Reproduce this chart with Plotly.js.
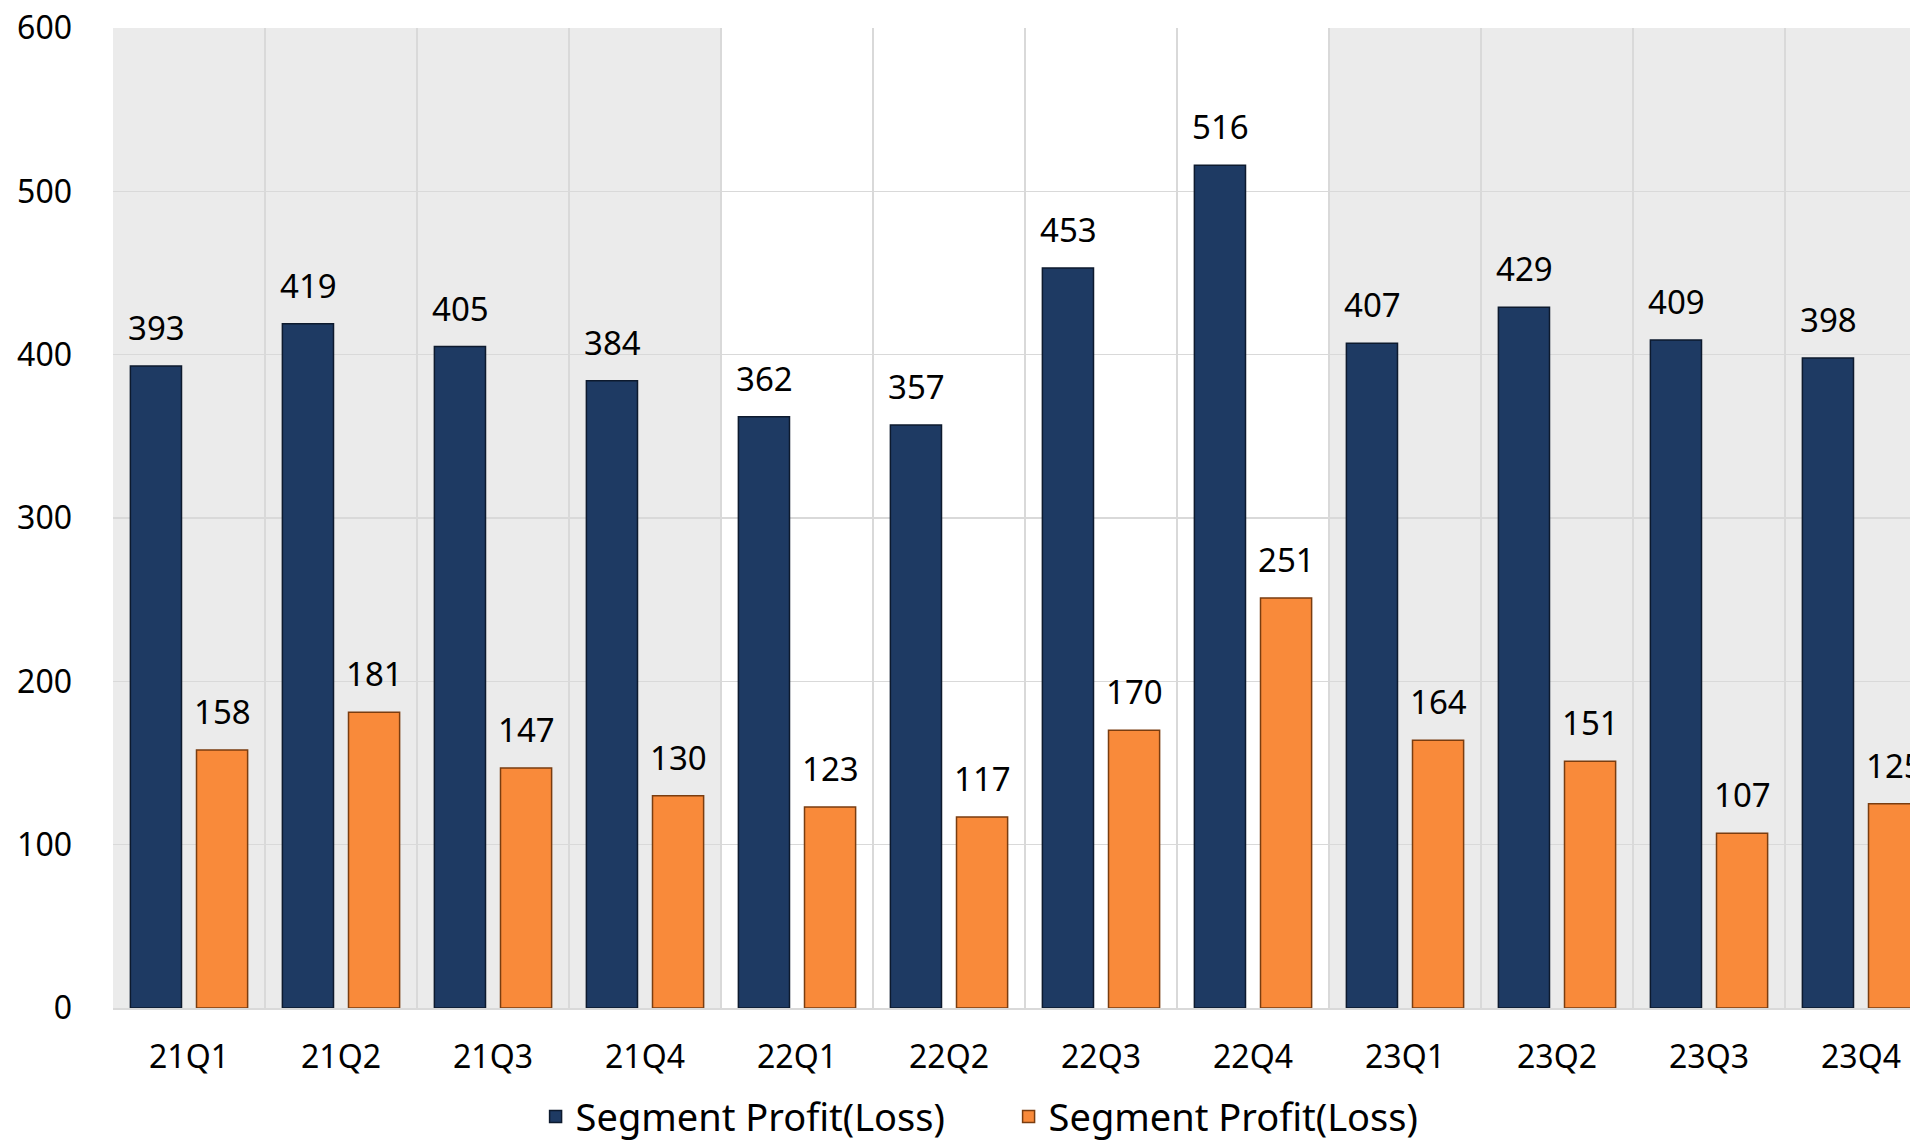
<!DOCTYPE html>
<html>
<head>
<meta charset="utf-8">
<script src="https://cdn.plot.ly/plotly-3.0.1.min.js"></script>
<style>
html,body{margin:0;padding:0;overflow:hidden;background:#fff;}
#chart{width:1937px;height:1145px;}
</style>
</head>
<body>
<div id="chart"></div>
<script>
const categories = ['21Q1','21Q2','21Q3','21Q4','22Q1','22Q2','22Q3','22Q4','23Q1','23Q2','23Q3','23Q4'];
const seriesNames = ['Segment Profit(Loss)', 'Segment Profit(Loss)'];
const profitA = [393, 419, 405, 384, 362, 357, 453, 516, 407, 429, 409, 398];
const profitB = [158, 181, 147, 130, 123, 117, 170, 251, 164, 151, 107, 125];
const yTicks = [0, 100, 200, 300, 400, 500, 600];
const shadedYears = [['21Q1','21Q4'], ['23Q1','23Q4']];

const FONT = '"Noto Sans", "Open Sans", sans-serif';
const colorA = '#1e3a63';
const colorB = '#f98a3a';

const traces = [
  {type:'bar', name:seriesNames[0], x:categories, y:profitA,
   marker:{color:colorA, line:{color:'#0d1a2e', width:1.5}}, hoverinfo:'x+y'},
  {type:'bar', name:seriesNames[1], x:categories, y:profitB,
   marker:{color:colorB, line:{color:'#7a3d10', width:1.5}}, hoverinfo:'x+y'}
];

const shapes = shadedYears.map(([a,b]) => ({
  type:'rect', layer:'below', xref:'x', yref:'paper',
  x0: categories.indexOf(a) - 0.5, x1: categories.indexOf(b) + 0.5,
  y0:0, y1:1, fillcolor:'#ebebeb', line:{width:0}
}));

const annotations = [];
[[profitA, -33], [profitB, 33]].forEach(([vals, dx]) => {
  vals.forEach((v, i) => annotations.push({
    x: categories[i], y: v, xref:'x', yref:'y', text: String(v),
    showarrow:false, xanchor:'center', yanchor:'bottom',
    xshift: dx, yshift: 14, font:{family:FONT, size:33, color:'#000'}
  }));
});

const layout = {
  width:1937, height:1145,
  margin:{l:113, r:0, t:28, b:137, autoexpand:false},
  paper_bgcolor:'#ffffff', plot_bgcolor:'#ffffff',
  barmode:'group', bargap:0.13, bargroupgap:0.227,
  showlegend:true,
  legend:{orientation:'h', x:0.491, xanchor:'center', y:-0.111, yanchor:'middle',
          entrywidth:428, entrywidthmode:'pixels',
          font:{family:FONT, size:38, color:'#000'}, traceorder:'normal'},
  xaxis:{type:'category', tickson:'boundaries', showgrid:true, gridcolor:'#d9d9d9', gridwidth:1.5,
         ticks:'', ticklabelstandoff:20, showline:true, linecolor:'#d9d9d9', linewidth:2,
         tickfont:{family:FONT, size:32, color:'#000'}, range:[-0.5, 11.5], fixedrange:true},
  yaxis:{range:[0,600], tickvals:yTicks, showgrid:true, gridcolor:'#d9d9d9', gridwidth:1.5,
         zeroline:false, ticks:'', ticklabelstandoff:40, showline:false,
         tickfont:{family:FONT, size:32, color:'#000'}, fixedrange:true},
  shapes: shapes,
  annotations: annotations
};

Plotly.newPlot('chart', traces, layout, {displayModeBar:false, staticPlot:true});
</script>
</body>
</html>
